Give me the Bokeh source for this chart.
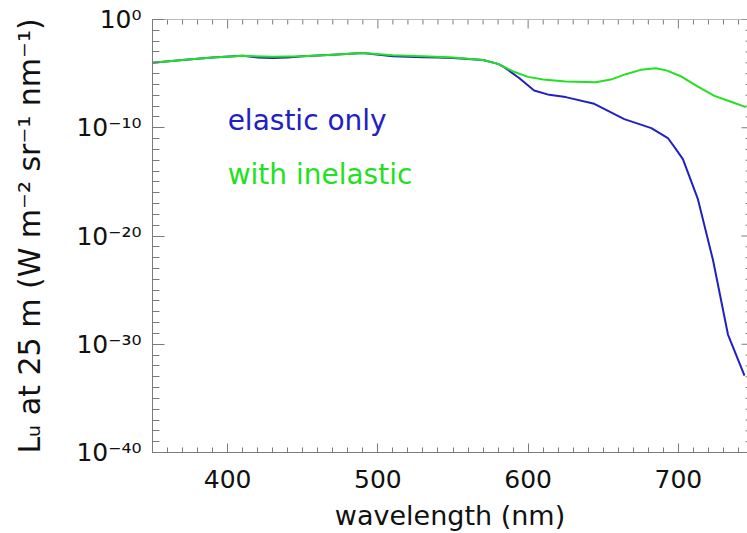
from bokeh.plotting import figure
from bokeh.models import Range1d, FixedTicker, Label, CustomJSTickFormatter
from bokeh.embed import file_html
from bokeh.resources import INLINE

# wavelength (nm) and log10 of radiance
wl_inel = [350, 370, 390, 410, 430, 450, 470, 490, 510, 530, 550, 570, 580, 590,
           600, 610, 625, 645, 655, 665, 675, 685, 692, 702, 713, 724, 735, 745]
exp_inel = [-4.0, -3.75, -3.5, -3.35, -3.45, -3.4, -3.25, -3.1, -3.3, -3.4, -3.5, -3.75, -4.1, -4.8,
            -5.3, -5.55, -5.73, -5.8, -5.55, -5.05, -4.65, -4.5, -4.7, -5.27, -6.2, -7.05, -7.6, -8.1]

wl_el = [350, 370, 390, 410, 420, 430, 440, 450, 470, 490, 510, 520, 530, 540, 550, 570, 580, 584,
         594, 604, 614, 625, 644, 664, 682, 693, 698, 703, 713, 723, 733, 744]
exp_el = [-4.0, -3.75, -3.5, -3.35, -3.5, -3.55, -3.5, -3.4, -3.25, -3.1, -3.4, -3.45, -3.48, -3.5, -3.55, -3.75, -4.1, -4.4,
          -5.4, -6.56, -6.96, -7.17, -7.79, -9.2, -10.03, -10.95, -11.9, -12.9, -16.6, -22.2, -29.1, -32.9]

y_major_exp = [-40, -30, -20, -10, 0]
x_major = [400, 500, 600, 700]
x_minor = list(range(350, 751, 10))
y_minor_exp = list(range(-40, 1))

X0, X1 = 350, 746
val_inel = [10 ** e for e in exp_inel]
val_el = [10 ** e for e in exp_el]

FONT = "DejaVu Sans"
AXC = "#7a7a7a"
BLUE = "#2020c4"
GREEN = "#22e022"

p = figure(width=747, height=533, y_axis_type="log",
           x_range=Range1d(X0, X1), y_range=Range1d(1e-40, 1e0),
           output_backend="svg", toolbar_location=None,
           min_border_left=152, min_border_right=0, min_border_top=19, min_border_bottom=79)
p.outline_line_color = None
p.xgrid.visible = False
p.ygrid.visible = False
p.background_fill_color = "white"

p.line(wl_el, val_el, line_color=BLUE, line_width=2)
p.line(wl_inel, val_inel, line_color=GREEN, line_width=2)

# top frame line and inward ticks (top and right), lengths converted to data units
px_per_dec = 435 / 40.0
px_per_nm = 595 / float(X1 - X0)
top_x = [x for x in x_minor if x <= X1]
top_len = [9 if x in x_major else 5 for x in top_x]
p.segment(x0=top_x, y0=[1.0] * len(top_x), x1=top_x,
          y1=[10 ** (-l / px_per_dec) for l in top_len], line_color=AXC, line_width=1)
p.segment(x0=[X0], y0=[1.0], x1=[X1], y1=[1.0], line_color=AXC, line_width=1)
r_len = [6 if e in y_major_exp else 2 for e in y_minor_exp]
p.segment(x0=[X1 - l / px_per_nm for l in r_len], y0=[10.0 ** e for e in y_minor_exp],
          x1=[X1] * len(r_len), y1=[10.0 ** e for e in y_minor_exp], line_color=AXC, line_width=1)

xt = FixedTicker(ticks=x_major, minor_ticks=x_minor)
yt = FixedTicker(ticks=[10.0 ** e for e in y_major_exp], minor_ticks=[10.0 ** e for e in y_minor_exp])

sup_fmt = CustomJSTickFormatter(code="""
const m = {'-':'\u207b','0':'\u2070','1':'\u00b9','2':'\u00b2','3':'\u00b3','4':'\u2074','5':'\u2075','6':'\u2076','7':'\u2077','8':'\u2078','9':'\u2079'};
const e = String(Math.round(Math.log10(tick)));
let s = '';
for (const c of e) { s += m[c]; }
return '10' + s;
""")

def style(ax, major_len, minor_len, lab_size, axlab_size):
    ax.axis_line_color = AXC
    ax.major_tick_line_color = AXC
    ax.minor_tick_line_color = AXC
    ax.major_tick_in = major_len
    ax.major_tick_out = 0
    ax.minor_tick_in = minor_len
    ax.minor_tick_out = 0
    ax.major_label_text_font = FONT
    ax.major_label_text_font_size = lab_size
    ax.major_label_text_color = "#111111"
    ax.axis_label_text_font = FONT
    ax.axis_label_text_font_size = axlab_size
    ax.axis_label_text_font_style = "normal"
    ax.axis_label_text_color = "#111111"

xa = p.xaxis[0]
xa.ticker = xt
style(xa, 9, 5, "25px", "27px")
xa.axis_label = "wavelength (nm)"
xa.major_label_standoff = 17
xa.axis_label_standoff = 9

ya = p.yaxis[0]
ya.ticker = yt
ya.formatter = sup_fmt
style(ya, 12, 7, "25px", "30px")
ya.axis_label = "L\u1d64 at 25 m (W m\u207b\u00b2 sr\u207b\u00b9 nm\u207b\u00b9)"
ya.major_label_standoff = 11
ya.axis_label_standoff = 26

p.add_layout(Label(x=400, y=1e-10, y_offset=7, text="elastic only", text_color=BLUE,
                   text_font=FONT, text_font_size="28px", text_baseline="alphabetic"))
p.add_layout(Label(x=400, y=1e-15, y_offset=7, text="with inelastic", text_color=GREEN,
                   text_font=FONT, text_font_size="28px", text_baseline="alphabetic"))

open("out.html", "w").write(file_html(p, INLINE))
